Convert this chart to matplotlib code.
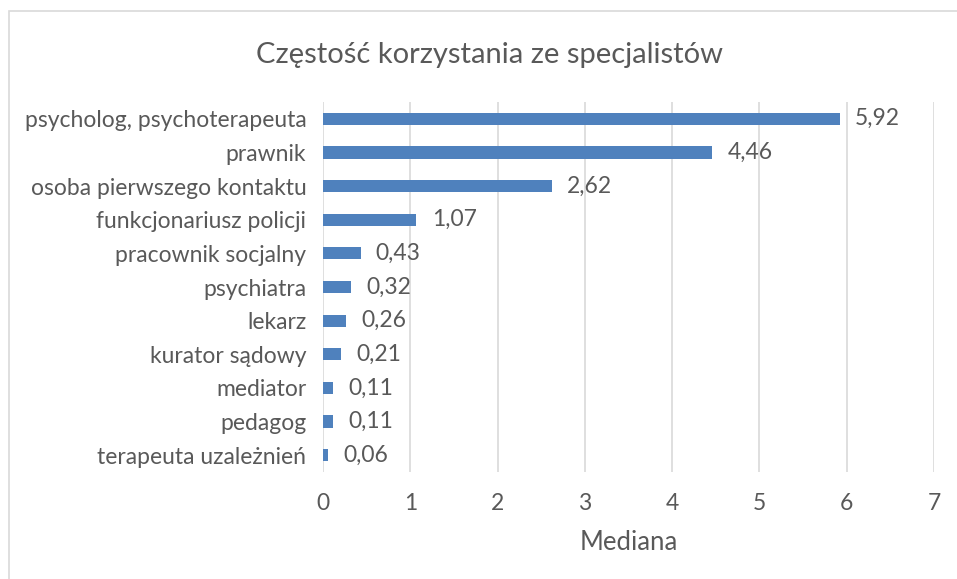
import matplotlib.pyplot as plt
from matplotlib.patches import Rectangle

kategorie = ['psycholog, psychoterapeuta', 'prawnik', 'osoba pierwszego kontaktu',
             'funkcjonariusz policji', 'pracownik socjalny', 'psychiatra', 'lekarz',
             'kurator sądowy', 'mediator', 'pedagog', 'terapeuta uzależnień']
mediana = [5.92, 4.46, 2.62, 1.07, 0.43, 0.32, 0.26, 0.21, 0.11, 0.11, 0.06]

szary = '#595959'
plt.rcParams['font.family'] = ['Lato', 'DejaVu Sans']

fig = plt.figure(figsize=(9.57, 5.79), dpi=100)
ax = fig.add_axes([323/957, 1-472/579, (934-323)/957, (472-102)/579])

poz = list(range(len(kategorie)))
ax.barh(poz, mediana, height=0.36, color='#4f81bd', zorder=3)
for p, v in zip(poz, mediana):
    ax.annotate(f'{v:.2f}'.replace('.', ','), (v, p), xytext=(11, 0),
                textcoords='offset points', va='center', ha='left',
                fontsize=16.5, color=szary)

ax.set_yticks(poz)
ax.set_yticklabels(kategorie, fontsize=16.5, color=szary)
ax.set_ylim(len(kategorie) - 0.5, -0.5)
ax.set_xlim(0, 7)
ax.set_xticks(range(8))
ax.tick_params(axis='x', labelsize=16.5, labelcolor=szary, length=0, pad=15)
ax.tick_params(axis='y', length=0, pad=12)
ax.grid(axis='x', color='#d9d9d9', linewidth=1.2, zorder=0)
for s in ax.spines.values():
    s.set_visible(False)
ax.set_xlabel('Mediana', fontsize=18.5, color=szary, labelpad=12)

fig.text(490/957, 1-55/579, 'Częstość korzystania ze specjalistów', ha='center',
         va='center', fontsize=21, color=szary)
fig.patches.append(Rectangle((9/957, -0.1), 1.2, 1 - 11/579 + 0.1,
                             transform=fig.transFigure, fill=False,
                             edgecolor='#d9d9d9', linewidth=1.2))

fig.savefig('out.png', dpi=100)
